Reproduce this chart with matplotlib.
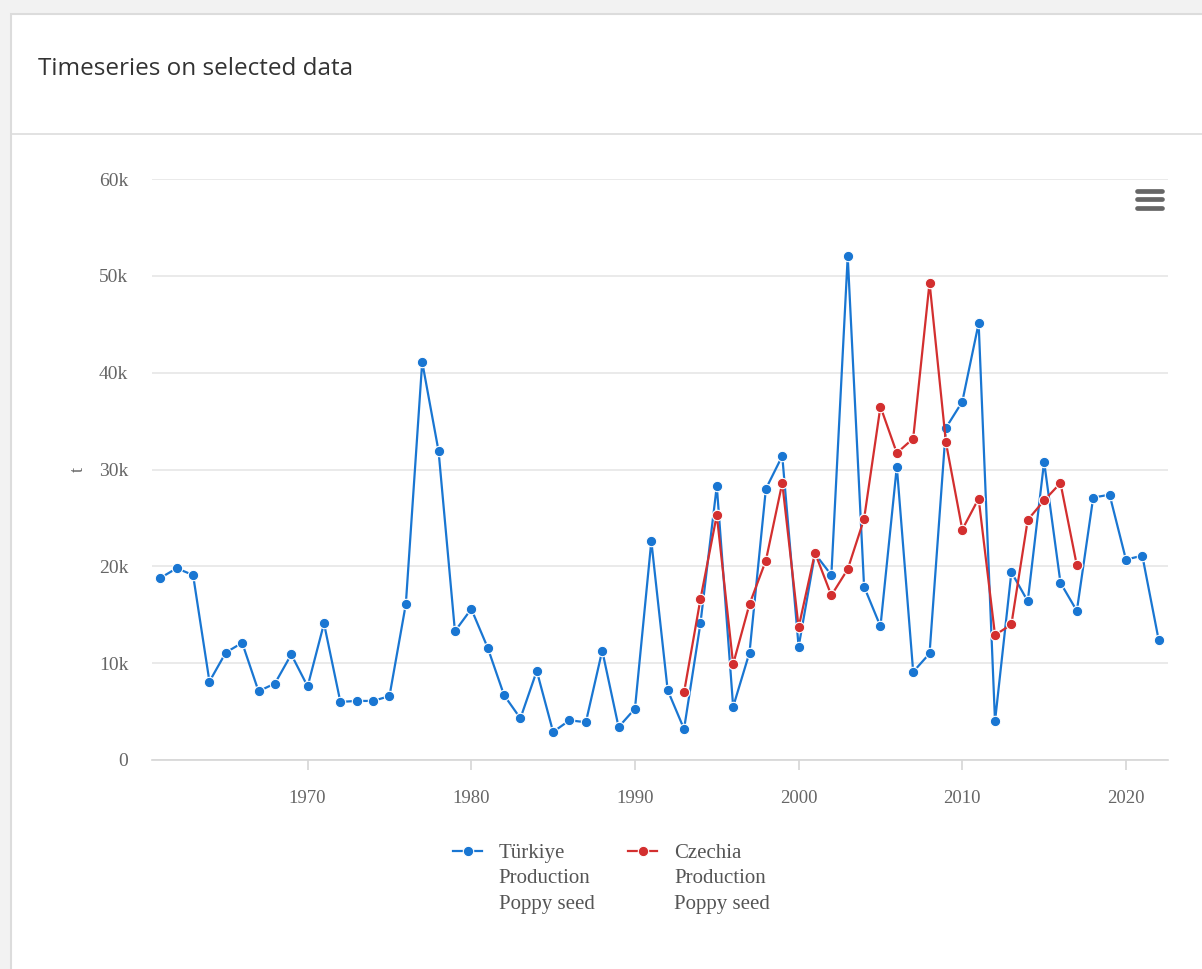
import matplotlib.pyplot as plt
from matplotlib.lines import Line2D
from matplotlib.patches import Rectangle
from matplotlib.ticker import FuncFormatter, MultipleLocator


# Poppy seed production (tonnes)
turkiye_years = list(range(1961, 2023))
turkiye_values = [
    18800, 19800, 19100, 8100, 11100, 12100, 7100, 7900, 10900, 7600,
    14100, 6000, 6100, 6100, 6600, 16100, 41100, 31900, 13300, 15600,
    11600, 6700, 4300, 9200, 2900, 4100, 3900, 11300, 3400, 5300,
    22600, 7200, 3200, 14100, 28300, 5500, 11100, 28000, 31400, 11700,
    21300, 19100, 52000, 17900, 13800, 30300, 9100, 11000, 34300, 37000,
    45100, 4000, 19400, 16400, 30800, 18300, 15400, 27100, 27400, 20700,
    21100, 12400,
]

czechia_years = list(range(1993, 2018))
czechia_values = [
    7000, 16600, 25300, 9900, 16100, 20600, 28600, 13700, 21400, 17000,
    19700, 24900, 36500, 31700, 33200, 49300, 32800, 23800, 27000, 12900,
    14000, 24800, 26800, 28600, 20100,
]

labels = ["Türkiye\nProduction\nPoppy seed", "Czechia\nProduction\nPoppy seed"]
colors = ["#1976d2", "#d32f2f"]

W, H = 1202, 969
fig = plt.figure(figsize=(W / 100, H / 100), dpi=100, facecolor="#f2f2f2")

# card + header
fig.add_artist(Rectangle((11 / W, -0.05), 1.1, 1 - 14 / H + 0.05, transform=fig.transFigure,
                         facecolor="white", edgecolor="#dcdcdc", linewidth=1.5, zorder=0))
fig.add_artist(Line2D([11 / W, 1], [1 - 134 / H] * 2, transform=fig.transFigure,
                      color="#dddddd", linewidth=1.2))
fig.text(38 / W, 1 - 69 / H, "Timeseries on selected data", fontsize=17.5,
         family="Open Sans", color="#333333", va="center", ha="left")

# hamburger menu
for yy in (191, 199.5, 208):
    fig.add_artist(Line2D([1137 / W, 1162 / W], [1 - yy / H] * 2, transform=fig.transFigure,
                          color="#666666", linewidth=3.4, solid_capstyle="round"))

ax = fig.add_axes([152 / W, 209 / H, 1016 / W, 581 / H])
ax.set_facecolor("none")

ax.plot(turkiye_years, turkiye_values, color=colors[0], lw=1.6, marker="o", ms=7.5,
        mec="white", mew=0.8, label=labels[0], zorder=3)
ax.plot(czechia_years, czechia_values, color=colors[1], lw=1.6, marker="o", ms=7.5,
        mec="white", mew=0.8, label=labels[1], zorder=4)

ax.set_xlim(1960.49, 2022.57)
ax.set_ylim(0, 60000)

ax.yaxis.set_major_locator(MultipleLocator(10000))
ax.yaxis.set_major_formatter(FuncFormatter(lambda v, p: "0" if v == 0 else f"{int(v / 1000)}k"))
ax.xaxis.set_major_locator(MultipleLocator(10))
ax.grid(axis="y", color="#e6e6e6", linewidth=1.2)
ax.set_axisbelow(True)

for s in ("top", "right", "left"):
    ax.spines[s].set_visible(False)
ax.spines["bottom"].set_color("#d6d6d6")
ax.spines["bottom"].set_linewidth(1.2)

serif = ["Liberation Serif", "DejaVu Serif"]
ax.tick_params(axis="y", length=0, pad=17, labelsize=14, labelcolor="#666666")
ax.tick_params(axis="x", length=7.2, width=1.2, color="#d6d6d6", pad=14.5,
               labelsize=13.5, labelcolor="#666666")
for lab in ax.get_xticklabels() + ax.get_yticklabels():
    lab.set_family(serif)

ax.set_ylabel("t", family=serif, fontsize=13, color="#666666", labelpad=9)

leg = fig.legend(loc="upper left", bbox_to_anchor=(453 / W, 1 - 844 / H), ncol=2,
                 frameon=False, borderpad=0, borderaxespad=0, handlelength=1.4,
                 handletextpad=0.8, columnspacing=1.6, prop={"family": serif, "size": 15})
for t in leg.get_texts():
    t.set_color("#555555")
    t.set_linespacing(1.45)
for col in leg._legend_handle_box.get_children():
    for row in col.get_children():
        row.align = "top"

fig.savefig("out.png", dpi=100, facecolor=fig.get_facecolor())
